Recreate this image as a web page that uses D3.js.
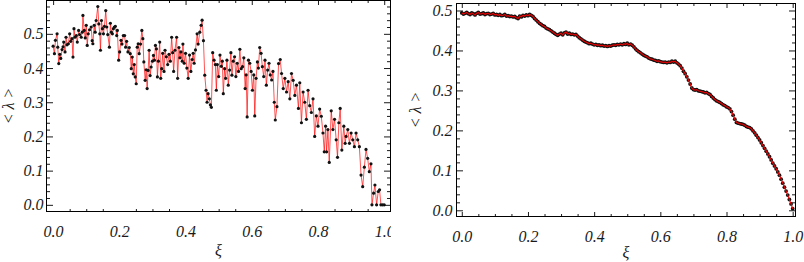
<!DOCTYPE html>
<html>
<head>
<meta charset="utf-8">
<script src="https://cdn.jsdelivr.net/npm/d3@7"></script>
<style>
  html, body { margin: 0; padding: 0; background: #fff; }
  svg { display: block; }
  .tick text { font-family: "Liberation Serif", "DejaVu Serif", serif; font-style: italic; }
</style>
</head>
<body>
<svg id="chart" width="804" height="262"></svg>
<script>
// left panel: noisy <lambda> vs xi
const xiLeft = [
  0.000, 0.004, 0.007, 0.012, 0.014, 0.017, 0.020, 0.023, 0.027, 0.030,
  0.032, 0.036, 0.039, 0.042, 0.046, 0.050, 0.053, 0.057, 0.060, 0.063,
  0.066, 0.070, 0.073, 0.077, 0.080, 0.085, 0.088, 0.090, 0.094, 0.097,
  0.100, 0.103, 0.106, 0.110, 0.115, 0.118, 0.120, 0.124, 0.127, 0.130,
  0.135, 0.138, 0.141, 0.143, 0.146, 0.149, 0.152, 0.155, 0.159, 0.162,
  0.165, 0.170, 0.173, 0.176, 0.179, 0.182, 0.185, 0.188, 0.192, 0.194,
  0.198, 0.201, 0.205, 0.208, 0.212, 0.216, 0.219, 0.222, 0.226, 0.230,
  0.233, 0.236, 0.239, 0.242, 0.245, 0.248, 0.251, 0.254, 0.257, 0.260,
  0.264, 0.268, 0.271, 0.274, 0.278, 0.281, 0.284, 0.287, 0.290, 0.293,
  0.296, 0.300, 0.303, 0.306, 0.309, 0.312, 0.315, 0.318, 0.322, 0.325,
  0.328, 0.331, 0.335, 0.338, 0.342, 0.346, 0.350, 0.354, 0.358, 0.361,
  0.364, 0.368, 0.373, 0.376, 0.380, 0.383, 0.386, 0.390, 0.392, 0.396,
  0.400, 0.404, 0.408, 0.412, 0.416, 0.420, 0.423, 0.426, 0.430, 0.435,
  0.438, 0.443, 0.447, 0.450, 0.454, 0.458, 0.462, 0.465, 0.468, 0.472,
  0.475, 0.478, 0.482, 0.486, 0.490, 0.493, 0.496, 0.500, 0.504, 0.508,
  0.511, 0.514, 0.518, 0.521, 0.525, 0.529, 0.533, 0.537, 0.540, 0.544,
  0.548, 0.552, 0.556, 0.560, 0.564, 0.568, 0.572, 0.576, 0.580, 0.583,
  0.586, 0.590, 0.594, 0.598, 0.602, 0.606, 0.609, 0.613, 0.617, 0.620,
  0.624, 0.628, 0.632, 0.636, 0.640, 0.644, 0.648, 0.652, 0.656, 0.660,
  0.664, 0.668, 0.671, 0.676, 0.681, 0.686, 0.690, 0.695, 0.700, 0.705,
  0.710, 0.715, 0.720, 0.725, 0.730, 0.735, 0.741, 0.745, 0.750, 0.755,
  0.760, 0.765, 0.770, 0.775, 0.780, 0.785, 0.790, 0.795, 0.800, 0.805,
  0.810, 0.815, 0.819, 0.823, 0.826, 0.830, 0.834, 0.840, 0.845, 0.850,
  0.855, 0.859, 0.863, 0.867, 0.872, 0.878, 0.882, 0.885, 0.890, 0.895,
  0.900, 0.905, 0.910, 0.915, 0.920, 0.925, 0.930, 0.935, 0.940, 0.945,
  0.950, 0.955, 0.960, 0.963, 0.968, 0.972, 0.977, 0.982, 0.986, 0.990,
  0.995, 1.000
];
const lambdaLeft = [
  0.464, 0.442, 0.481, 0.500, 0.461, 0.413, 0.440, 0.428, 0.454, 0.462,
  0.476, 0.447, 0.490, 0.468, 0.471, 0.500, 0.478, 0.486, 0.432, 0.515,
  0.490, 0.495, 0.476, 0.510, 0.498, 0.490, 0.505, 0.554, 0.510, 0.488,
  0.525, 0.466, 0.500, 0.512, 0.520, 0.480, 0.471, 0.525, 0.505, 0.539,
  0.580, 0.529, 0.500, 0.452, 0.539, 0.515, 0.500, 0.522, 0.568, 0.520,
  0.498, 0.461, 0.531, 0.505, 0.500, 0.515, 0.520, 0.522, 0.495, 0.510,
  0.423, 0.447, 0.481, 0.470, 0.495, 0.495, 0.461, 0.478, 0.447, 0.460,
  0.442, 0.398, 0.432, 0.383, 0.410, 0.374, 0.354, 0.461, 0.471, 0.442,
  0.470, 0.510, 0.486, 0.418, 0.364, 0.395, 0.340, 0.393, 0.452, 0.378,
  0.403, 0.420, 0.437, 0.423, 0.466, 0.456, 0.374, 0.420, 0.476, 0.370,
  0.398, 0.443, 0.390, 0.452, 0.433, 0.410, 0.440, 0.420, 0.490, 0.445,
  0.390, 0.452, 0.490, 0.370, 0.460, 0.430, 0.447, 0.420, 0.470, 0.414,
  0.443, 0.400, 0.370, 0.438, 0.390, 0.425, 0.443, 0.414, 0.453, 0.500,
  0.470, 0.505, 0.525, 0.540, 0.480, 0.379, 0.335, 0.300, 0.325, 0.310,
  0.292, 0.285, 0.445, 0.423, 0.410, 0.335, 0.410, 0.375, 0.438, 0.405,
  0.420, 0.325, 0.398, 0.370, 0.423, 0.350, 0.394, 0.445, 0.379, 0.420,
  0.433, 0.375, 0.414, 0.390, 0.455, 0.398, 0.404, 0.430, 0.340, 0.380,
  0.257, 0.423, 0.414, 0.390, 0.335, 0.380, 0.260, 0.370, 0.418, 0.400,
  0.460, 0.443, 0.404, 0.375, 0.423, 0.350, 0.394, 0.414, 0.380, 0.365,
  0.390, 0.300, 0.248, 0.287, 0.413, 0.425, 0.384, 0.340, 0.370, 0.330,
  0.360, 0.310, 0.384, 0.364, 0.320, 0.350, 0.282, 0.357, 0.240, 0.330,
  0.300, 0.250, 0.335, 0.290, 0.270, 0.310, 0.200, 0.260, 0.230, 0.280,
  0.259, 0.210, 0.155, 0.230, 0.155, 0.220, 0.124, 0.275, 0.220, 0.250,
  0.190, 0.139, 0.240, 0.282, 0.160, 0.230, 0.180, 0.200, 0.220, 0.180,
  0.210, 0.190, 0.170, 0.210, 0.190, 0.170, 0.087, 0.053, 0.110, 0.162,
  0.136, 0.097, 0.120, 0.000, 0.034, 0.058, 0.000, 0.039, 0.044, 0.000,
  0.000, 0.000
];

// right panel: smooth <lambda> vs xi
const xiRight = [
  0.000, 0.005, 0.010, 0.015, 0.020, 0.025, 0.030, 0.035, 0.040, 0.045,
  0.050, 0.055, 0.060, 0.065, 0.070, 0.075, 0.080, 0.085, 0.090, 0.095,
  0.100, 0.105, 0.110, 0.115, 0.120, 0.125, 0.130, 0.135, 0.140, 0.145,
  0.150, 0.155, 0.160, 0.165, 0.170, 0.175, 0.180, 0.185, 0.190, 0.195,
  0.200, 0.205, 0.210, 0.215, 0.220, 0.225, 0.230, 0.235, 0.240, 0.245,
  0.250, 0.255, 0.260, 0.265, 0.270, 0.275, 0.280, 0.285, 0.290, 0.295,
  0.300, 0.305, 0.310, 0.315, 0.320, 0.325, 0.330, 0.335, 0.340, 0.345,
  0.350, 0.355, 0.360, 0.365, 0.370, 0.375, 0.380, 0.385, 0.390, 0.395,
  0.400, 0.405, 0.410, 0.415, 0.420, 0.425, 0.430, 0.435, 0.440, 0.445,
  0.450, 0.455, 0.460, 0.465, 0.470, 0.475, 0.480, 0.485, 0.490, 0.495,
  0.500, 0.505, 0.510, 0.515, 0.520, 0.525, 0.530, 0.535, 0.540, 0.545,
  0.550, 0.555, 0.560, 0.565, 0.570, 0.575, 0.580, 0.585, 0.590, 0.595,
  0.600, 0.605, 0.610, 0.615, 0.620, 0.625, 0.630, 0.635, 0.640, 0.645,
  0.650, 0.655, 0.660, 0.665, 0.670, 0.675, 0.680, 0.685, 0.690, 0.695,
  0.700, 0.705, 0.710, 0.715, 0.720, 0.725, 0.730, 0.735, 0.740, 0.745,
  0.750, 0.755, 0.760, 0.765, 0.770, 0.775, 0.780, 0.785, 0.790, 0.795,
  0.800, 0.805, 0.810, 0.815, 0.820, 0.825, 0.830, 0.835, 0.840, 0.845,
  0.850, 0.855, 0.860, 0.865, 0.870, 0.875, 0.880, 0.885, 0.890, 0.895,
  0.900, 0.905, 0.910, 0.915, 0.920, 0.925, 0.930, 0.935, 0.940, 0.945,
  0.950, 0.955, 0.960, 0.965, 0.970, 0.975, 0.980, 0.985, 0.990, 0.995,
  1.000
];
const lambdaRight = [
  0.494, 0.491, 0.493, 0.495, 0.492, 0.490, 0.494, 0.492, 0.489, 0.493,
  0.495, 0.491, 0.492, 0.494, 0.490, 0.492, 0.493, 0.490, 0.491, 0.493,
  0.489, 0.490, 0.488, 0.490, 0.487, 0.488, 0.490, 0.486, 0.487, 0.485,
  0.486, 0.484, 0.485, 0.482, 0.480, 0.486, 0.484, 0.488, 0.486, 0.489,
  0.487, 0.490, 0.488, 0.485, 0.480, 0.476, 0.472, 0.468, 0.465, 0.462,
  0.460, 0.456, 0.454, 0.452, 0.449, 0.446, 0.443, 0.440, 0.438, 0.441,
  0.443, 0.439, 0.444, 0.446, 0.441, 0.443, 0.440, 0.441, 0.439, 0.440,
  0.436, 0.432, 0.429, 0.426, 0.423, 0.421, 0.419, 0.417, 0.418, 0.416,
  0.414, 0.415, 0.413, 0.414, 0.412, 0.413, 0.411, 0.412, 0.410, 0.412,
  0.411, 0.413, 0.414, 0.413, 0.415, 0.414, 0.416, 0.414, 0.417, 0.415,
  0.418, 0.414, 0.416, 0.413, 0.409, 0.404, 0.400, 0.397, 0.394, 0.391,
  0.388, 0.386, 0.384, 0.381, 0.379, 0.378, 0.376, 0.375, 0.373, 0.374,
  0.372, 0.371, 0.370, 0.371, 0.369, 0.371, 0.370, 0.373, 0.371, 0.373,
  0.369, 0.366, 0.362, 0.356, 0.348, 0.342, 0.334, 0.326, 0.316, 0.306,
  0.302, 0.301, 0.302, 0.299, 0.298, 0.297, 0.296, 0.294, 0.295, 0.292,
  0.290, 0.285, 0.281, 0.277, 0.274, 0.272, 0.270, 0.267, 0.264, 0.262,
  0.259, 0.257, 0.254, 0.247, 0.238, 0.228, 0.220, 0.218, 0.217, 0.216,
  0.215, 0.213, 0.210, 0.208, 0.207, 0.204, 0.199, 0.194, 0.188, 0.182,
  0.176, 0.169, 0.162, 0.155, 0.148, 0.141, 0.134, 0.126, 0.118, 0.111,
  0.104, 0.096, 0.088, 0.078, 0.068, 0.058, 0.048, 0.038, 0.027, 0.016,
  0.004
];

const xTicks = [0, 0.2, 0.4, 0.6, 0.8, 1.0];
const xMinorTicks = [0.05, 0.1, 0.15, 0.25, 0.3, 0.35, 0.45, 0.5, 0.55, 0.65, 0.7, 0.75, 0.85, 0.9, 0.95];
const yTicks = [0, 0.1, 0.2, 0.3, 0.4, 0.5];
const yMinorTicks = [0.02, 0.04, 0.06, 0.08, 0.12, 0.14, 0.16, 0.18, 0.22, 0.24, 0.26, 0.28,
  0.32, 0.34, 0.36, 0.38, 0.42, 0.44, 0.46, 0.48, 0.52, 0.54, 0.56, 0.58];
const xLabel = 'ξ';
const yLabel = '< λ >';

const svg = d3.select('#chart');
const fmt = d3.format('.1f');

svg.append('defs').append('clipPath')
    .attr('id', 'leftClip')
  .append('rect')
    .attr('x', 0).attr('y', 0).attr('width', 391).attr('height', 262);

function drawPanel(p) {
  const xs = d3.scaleLinear().domain(p.xDomain).range([p.left, p.right]);
  const ys = d3.scaleLinear().domain(p.yDomain).range([p.bottom, p.top]);
  const g = svg.append('g');
  const pts = p.xi.map((x, i) => ({ x: x, y: p.lambda[i] }));

  const line = d3.line().x(d => xs(d.x)).y(d => ys(d.y));

  const dots = () => g.append('g')
    .selectAll('circle')
    .data(pts)
    .join('circle')
      .attr('cx', d => xs(d.x))
      .attr('cy', d => ys(d.y))
      .attr('r', p.dotR)
      .attr('fill', '#111');

  const path = () => g.append('path')
    .datum(pts)
    .attr('fill', 'none')
    .attr('stroke', '#ff0000')
    .attr('stroke-width', p.lineW)
    .attr('stroke-opacity', p.lineOpacity)
    .attr('d', line);

  if (p.lineOnTop) { dots(); path(); } else { path(); dots(); }

  const yTickMinor = p.yMinor.filter(v => v <= p.yDomain[1]);

  // inward ticks on all four sides
  const addAxis = (axis, tr, clip) => {
    const a = g.append('g')
      .attr('transform', tr)
      .call(axis);
    a.select('.domain').remove();
    a.selectAll('line').attr('stroke', '#000').attr('stroke-width', 0.9);
    a.selectAll('text')
      .attr('font-size', 16)
      .attr('fill', '#1a1a1a');
    if (clip) a.attr('clip-path', 'url(#leftClip)');
    return a;
  };

  addAxis(d3.axisBottom(xs).tickValues(xTicks).tickSize(-4.5).tickPadding(p.xPad).tickFormat(fmt),
    `translate(0,${p.bottom})`, p.clip);
  addAxis(d3.axisBottom(xs).tickValues(xMinorTicks).tickSize(-2.5).tickFormat(''), `translate(0,${p.bottom})`);
  addAxis(d3.axisTop(xs).tickValues(xTicks).tickSize(-4.5).tickFormat(''), `translate(0,${p.top})`);
  addAxis(d3.axisTop(xs).tickValues(xMinorTicks).tickSize(-2.5).tickFormat(''), `translate(0,${p.top})`);

  addAxis(d3.axisLeft(ys).tickValues(yTicks).tickSize(-6.5).tickPadding(p.yPad).tickFormat(fmt),
    `translate(${p.left},0)`);
  addAxis(d3.axisLeft(ys).tickValues(yTickMinor).tickSize(-3.5).tickFormat(''), `translate(${p.left},0)`);
  addAxis(d3.axisRight(ys).tickValues(yTicks).tickSize(-6.5).tickFormat(''), `translate(${p.right},0)`);
  addAxis(d3.axisRight(ys).tickValues(yTickMinor).tickSize(-3.5).tickFormat(''), `translate(${p.right},0)`);

  g.append('rect')
    .attr('x', p.left).attr('y', p.top)
    .attr('width', p.right - p.left).attr('height', p.bottom - p.top)
    .attr('fill', 'none')
    .attr('stroke', '#000')
    .attr('stroke-width', 1);

  g.append('text')
    .attr('x', (p.left + p.right) / 2)
    .attr('y', p.xLabelY)
    .attr('text-anchor', 'middle')
    .attr('font-family', '"Liberation Serif", serif')
    .attr('font-style', 'italic')
    .attr('font-size', 16)
    .attr('fill', '#1a1a1a')
    .text(xLabel);

  g.append('text')
    .attr('transform', `translate(${p.yLabelX},${(p.top + p.bottom) / 2}) rotate(-90)`)
    .attr('text-anchor', 'middle')
    .attr('dominant-baseline', 'central')
    .attr('font-family', '"Liberation Serif", serif')
    .attr('font-style', 'italic')
    .attr('font-size', 16)
    .attr('fill', '#1a1a1a')
    .text(yLabel);
}

drawPanel({
  xi: xiLeft, lambda: lambdaLeft,
  left: 46.5, right: 390.5, top: 0.5, bottom: 211.5,
  xDomain: [-0.02, 1.019], yDomain: [-0.0195, 0.5975],
  dotR: 1.6, lineW: 0.9, lineOpacity: 0.75, lineOnTop: false,
  yMinor: yMinorTicks, xPad: 14, yPad: 3,
  xLabelY: 256, yLabelX: 8, clip: true
});

drawPanel({
  xi: xiRight, lambda: lambdaRight,
  left: 456.5, right: 795.5, top: 3.5, bottom: 216.5,
  xDomain: [-0.016, 1.0085], yDomain: [-0.0155, 0.5175],
  dotR: 1.9, lineW: 1.2, lineOpacity: 0.9, lineOnTop: true,
  yMinor: yMinorTicks, xPad: 14, yPad: 4,
  xLabelY: 258, yLabelX: 415, clip: false
});
</script>
</body>
</html>
